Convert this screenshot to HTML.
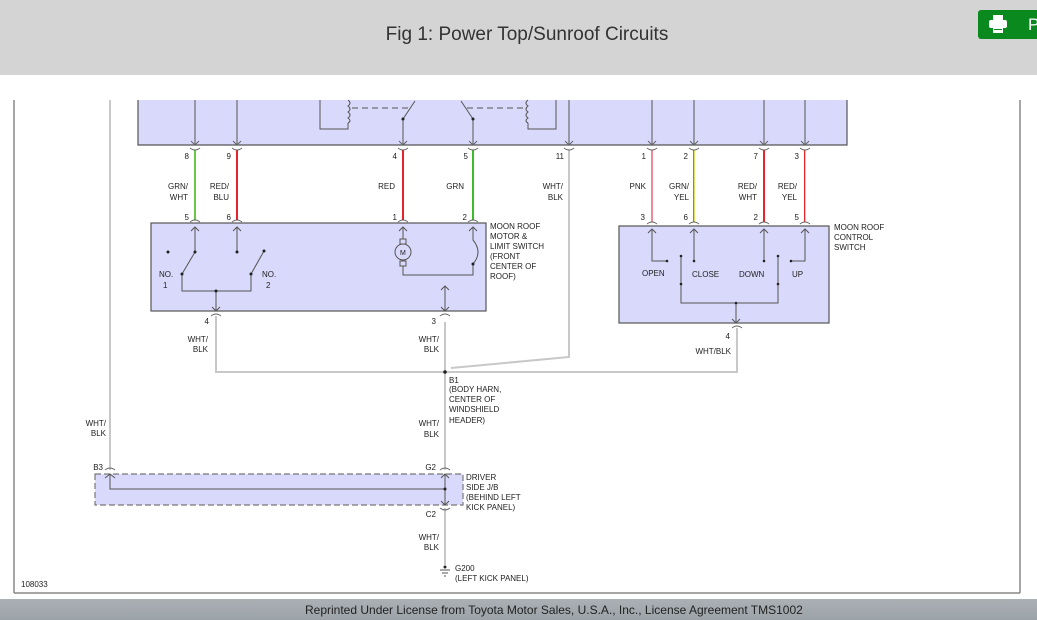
<!DOCTYPE html>
<html><head><meta charset="utf-8"><style>
html,body{margin:0;padding:0;width:1037px;height:620px;overflow:hidden;background:#fff;font-family:"Liberation Sans",Arial,sans-serif}
#hdr{position:absolute;left:0;top:0;width:1037px;height:75px;background:#d4d4d4}
#hdr .t{position:absolute;left:0;width:1054px;top:24px;text-align:center;font-size:19px;color:#333}
#btn{position:absolute;left:978px;top:10px;width:70px;height:29px;background:#0a8a1e;border-radius:3px}
#ftr{position:absolute;left:0;top:599px;width:1037px;height:21px;background:linear-gradient(#aab0b4,#9ca3a8);}
#ftr div{position:absolute;left:305px;top:4px;font-size:12px;color:#222}
svg{position:absolute;left:0;top:0}
svg text{font-family:"Liberation Sans",Arial,sans-serif;font-size:8px;fill:#222}
</style></head><body>
<div id="hdr"><div class="t">Fig 1: Power Top/Sunroof Circuits</div>
<div id="btn"><svg width="40" height="29" style="position:absolute;left:8px;top:0"><rect x="7" y="5" width="10" height="6" fill="#fff"/><rect x="3" y="10" width="18" height="8" rx="2" fill="#fff"/><rect x="7" y="17" width="10" height="6" fill="#fff"/><rect x="8" y="19" width="8" height="1" fill="#0a8a1e"/></svg><span style="position:absolute;left:50px;top:5px;color:#fff;font-size:17px">P</span></div></div>
<svg width="1037" height="620" viewBox="0 0 1037 620">
<g stroke="#888" fill="none" stroke-width="1.5">
<line x1="14" y1="100" x2="14" y2="593"/><line x1="1020" y1="100" x2="1020" y2="593"/><line x1="14" y1="593" x2="1020" y2="593"/>
</g>
<!-- top box -->
<path d="M138 100 V145 H847 V100" fill="#d9d9fb" stroke="#555" stroke-width="1.2"/>
<g stroke="#555" fill="none" stroke-width="1">
<path d="M320 100 V129 H348 V123"/><path d="M348 100 q4 3 0 6 q4 3 0 6 q4 3 0 6 q4 3 0 5"/>
<path d="M556 100 V129 H528 V123"/><path d="M528 100 q-4 3 0 6 q-4 3 0 6 q-4 3 0 6 q-4 3 0 5"/>
<line x1="352" y1="108" x2="409" y2="108" stroke-dasharray="6,4"/>
<line x1="467" y1="108" x2="526" y2="108" stroke-dasharray="6,4"/>
<line x1="403" y1="119" x2="415" y2="101"/><line x1="403" y1="119" x2="403" y2="145"/>
<line x1="461" y1="101" x2="473" y2="119"/><line x1="473" y1="119" x2="473" y2="145"/>
<line x1="195" y1="100" x2="195" y2="145"/><line x1="237" y1="100" x2="237" y2="145"/>
<line x1="569" y1="100" x2="569" y2="145"/><line x1="652" y1="100" x2="652" y2="145"/>
<line x1="694" y1="100" x2="694" y2="145"/><line x1="764" y1="100" x2="764" y2="145"/><line x1="805" y1="100" x2="805" y2="145"/>
</g>
<g fill="#222"><circle cx="403" cy="119" r="1.5"/><circle cx="473" cy="119" r="1.5"/></g>
<!-- gray wires -->
<g stroke="#c8c8c8" stroke-width="2" fill="none">
<line x1="110" y1="100" x2="110" y2="470"/>
<path d="M569 150 V357 L451 368"/>
<path d="M216 316 V372 H737 V328"/>
<line x1="445" y1="322" x2="445" y2="470"/>
<line x1="445" y1="508" x2="445" y2="565"/>
</g>
<!-- colored wires -->
<g stroke-width="2">
<line x1="195" y1="150" x2="195" y2="220" stroke="#6cc64a"/>
<line x1="237" y1="150" x2="237" y2="220" stroke="#e8232a"/>
<line x1="403" y1="150" x2="403" y2="220" stroke="#e8232a"/>
<line x1="473" y1="150" x2="473" y2="220" stroke="#3cba2a"/>
<line x1="652" y1="150" x2="652" y2="222" stroke="#f08898"/>
<line x1="693.5" y1="150" x2="693.5" y2="222" stroke="#3cba2a" stroke-width="1"/><line x1="694.5" y1="150" x2="694.5" y2="222" stroke="#e0e060" stroke-width="1"/>
<line x1="764" y1="150" x2="764" y2="222" stroke="#e8232a"/>
<line x1="804.5" y1="150" x2="804.5" y2="222" stroke="#e8232a" stroke-width="1"/><line x1="805.5" y1="150" x2="805.5" y2="222" stroke="#f0e040" stroke-width="1"/>
</g>
<!-- connector arcs -->
<g stroke="#666" fill="none" stroke-width="1">
<path d="M190 148 q5 4 10 0 M232 148 q5 4 10 0 M398 148 q5 4 10 0 M468 148 q5 4 10 0 M564 148 q5 4 10 0 M647 148 q5 4 10 0 M689 148 q5 4 10 0 M759 148 q5 4 10 0 M800 148 q5 4 10 0"/>
<path d="M190 222 q5 -4 10 0 M232 222 q5 -4 10 0 M398 222 q5 -4 10 0 M468 222 q5 -4 10 0 M647 224 q5 -4 10 0 M689 224 q5 -4 10 0 M759 224 q5 -4 10 0 M800 224 q5 -4 10 0"/>
<path d="M211 316 q5 -4 10 0 M440 316 q5 -4 10 0 M732 328 q5 -4 10 0"/>
<path d="M105 470 q5 -4 10 0 M440 470 q5 -4 10 0 M440 508 q5 4 10 0"/>
<path d="M191 141 l4 4 l4 -4 M233 141 l4 4 l4 -4 M399 141 l4 4 l4 -4 M469 141 l4 4 l4 -4 M565 141 l4 4 l4 -4 M648 141 l4 4 l4 -4 M690 141 l4 4 l4 -4 M760 141 l4 4 l4 -4 M801 141 l4 4 l4 -4"/>
</g>
<!-- motor box -->
<rect x="151" y="223" width="335" height="88" fill="#d9d9fb" stroke="#555" stroke-width="1.2"/>
<g stroke="#555" fill="none" stroke-width="1">
<path d="M195 252 V227 M191 231 l4 -4 l4 4 M237 252 V227 M233 231 l4 -4 l4 4"/>
<line x1="195" y1="252" x2="182" y2="274"/><line x1="264" y1="251" x2="251" y2="274"/>
<path d="M182 274 V291 H251 V274"/><path d="M216 291 V311 M212 307 l4 4 l4 -4"/>
<path d="M403 227 V239 M399 231 l4 -4 l4 4 M403 266 V275 H473 V264 q10 -12 0 -24 V227 M469 231 l4 -4 l4 4"/>
<circle cx="403" cy="252" r="8"/><rect x="400" y="239" width="6" height="5"/><rect x="400" y="261" width="6" height="5"/>
<path d="M445 286 V311 M441 290 l4 -4 l4 4 M441 307 l4 4 l4 -4"/>
</g>
<text x="400" y="255" style="font-size:7px">M</text>
<g fill="#222"><circle cx="168" cy="252" r="1.5"/><circle cx="195" cy="252" r="1.5"/><circle cx="237" cy="252" r="1.5"/><circle cx="264" cy="251" r="1.5"/><circle cx="182" cy="274" r="1.5"/><circle cx="251" cy="274" r="1.5"/><circle cx="216" cy="291" r="1.5"/><circle cx="473" cy="264" r="1.5"/><circle cx="445" cy="372" r="1.8"/></g>
<!-- control box -->
<rect x="619" y="226" width="210" height="97" fill="#d9d9fb" stroke="#555" stroke-width="1.2"/>
<g stroke="#555" fill="none" stroke-width="1">
<path d="M652 230 V261 H667 M648 233 l4 -4 l4 4"/>
<path d="M694 230 V261 M690 233 l4 -4 l4 4"/>
<path d="M764 230 V261 M760 233 l4 -4 l4 4"/>
<path d="M805 230 V261 H791 M801 233 l4 -4 l4 4"/>
<path d="M681 256 V303 H778 V256 M736 303 V323 M732 319 l4 4 l4 -4"/>
</g>
<g fill="#222"><circle cx="667" cy="261" r="1.3"/><circle cx="694" cy="261" r="1.3"/><circle cx="764" cy="261" r="1.3"/><circle cx="791" cy="261" r="1.3"/><circle cx="681" cy="256" r="1.3"/><circle cx="778" cy="256" r="1.3"/><circle cx="681" cy="284" r="1.3"/><circle cx="778" cy="284" r="1.3"/><circle cx="736" cy="303" r="1.3"/></g>
<!-- J/B -->
<rect x="95" y="474" width="368" height="31" fill="#d9d9fb" stroke="#777" stroke-width="1.2" stroke-dasharray="6,3"/>
<g stroke="#555" fill="none" stroke-width="1">
<path d="M105 478 l5 -4 l5 4 M110 474 V489 H445 M445 474 V505 M441 478 l4 -4 l4 4 M441 501 l4 4 l4 -4"/>
<path d="M440 570 h10 M442 573 h6 M444 576 h2"/>
</g>
<circle cx="445" cy="489" r="1.5" fill="#222"/><circle cx="445" cy="567" r="1.5" fill="#222"/>
<!-- labels -->
<g text-anchor="end">
<text x="189" y="159">8</text><text x="231" y="159">9</text><text x="397" y="159">4</text><text x="468" y="159">5</text><text x="564" y="159">11</text>
<text x="646" y="159">1</text><text x="688" y="159">2</text><text x="758" y="159">7</text><text x="799" y="159">3</text>
<text x="188" y="189">GRN/</text><text x="188" y="200">WHT</text><text x="229" y="189">RED/</text><text x="229" y="200">BLU</text>
<text x="395" y="189">RED</text><text x="464" y="189">GRN</text><text x="563" y="189">WHT/</text><text x="563" y="200">BLK</text>
<text x="646" y="189">PNK</text><text x="689" y="189">GRN/</text><text x="689" y="200">YEL</text>
<text x="757" y="189">RED/</text><text x="757" y="200">WHT</text><text x="797" y="189">RED/</text><text x="797" y="200">YEL</text>
<text x="189" y="220">5</text><text x="231" y="220">6</text><text x="397" y="220">1</text><text x="467" y="220">2</text>
<text x="645" y="220">3</text><text x="688" y="220">6</text><text x="758" y="220">2</text><text x="799" y="220">5</text>
<text x="209" y="324">4</text><text x="436" y="324">3</text><text x="730" y="339">4</text>
<text x="208" y="342">WHT/</text><text x="208" y="352">BLK</text><text x="439" y="342">WHT/</text><text x="439" y="352">BLK</text>
<text x="731" y="354">WHT/BLK</text>
<text x="106" y="426">WHT/</text><text x="106" y="436">BLK</text><text x="439" y="426">WHT/</text><text x="439" y="437">BLK</text>
<text x="439" y="540">WHT/</text><text x="439" y="550">BLK</text>
<text x="103" y="470">B3</text><text x="436" y="470">G2</text><text x="436" y="517">C2</text>
</g>
<text x="159" y="277">NO.</text><text x="163" y="288">1</text><text x="262" y="277">NO.</text><text x="266" y="288">2</text>
<text x="490" y="229">MOON ROOF</text><text x="490" y="239">MOTOR &amp;</text><text x="490" y="249">LIMIT SWITCH</text><text x="490" y="259">(FRONT</text><text x="490" y="269">CENTER OF</text><text x="490" y="279">ROOF)</text>
<text x="834" y="230">MOON ROOF</text><text x="834" y="240">CONTROL</text><text x="834" y="250">SWITCH</text>
<text x="642" y="276">OPEN</text><text x="692" y="277">CLOSE</text><text x="739" y="277">DOWN</text><text x="792" y="277">UP</text>
<text x="449" y="383">B1</text><text x="449" y="392">(BODY HARN,</text><text x="449" y="402">CENTER OF</text><text x="449" y="412">WINDSHIELD</text><text x="449" y="423">HEADER)</text>
<text x="466" y="480">DRIVER</text><text x="466" y="490">SIDE J/B</text><text x="466" y="500">(BEHIND LEFT</text><text x="466" y="510">KICK PANEL)</text>
<text x="455" y="571">G200</text><text x="455" y="581">(LEFT KICK PANEL)</text>
<text x="21" y="587">108033</text>
</svg>
<div id="ftr"><div>Reprinted Under License from Toyota Motor Sales, U.S.A., Inc., License Agreement TMS1002</div></div>
</body></html>
